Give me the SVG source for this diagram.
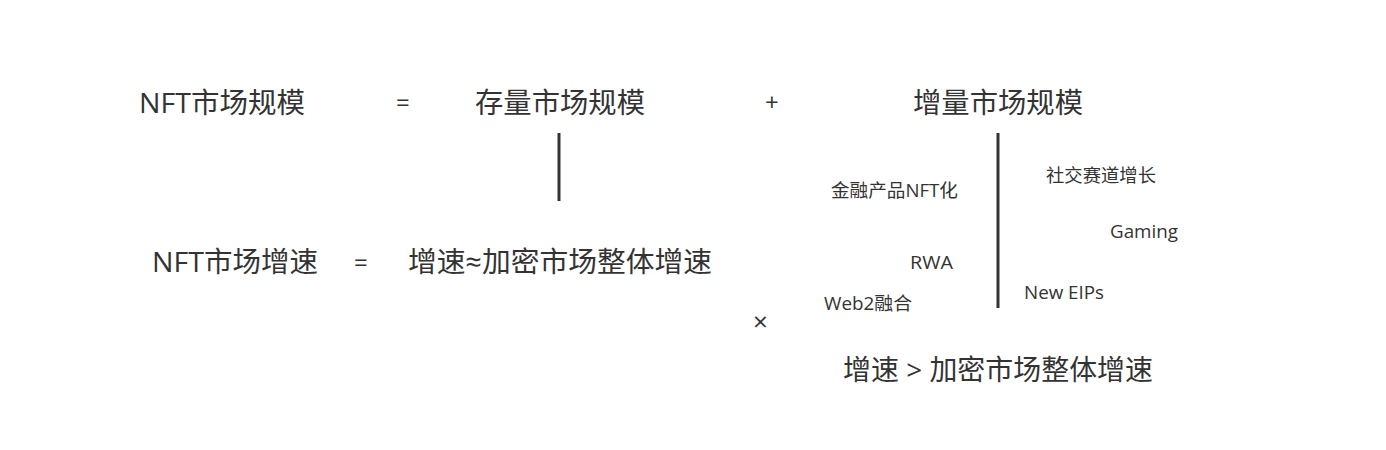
<svg xmlns="http://www.w3.org/2000/svg" width="1386" height="450" viewBox="0 0 1386 450">
<style>
text{font-family:"Open Sans","Noto Sans CJK SC",sans-serif;fill:#333333}
.b{font-size:28px}
.s{font-size:18.5px}
.op{font-size:24px}
.ln{stroke:#333333;stroke-width:3;fill:none}
</style>
<rect width="1386" height="450" fill="#ffffff"/>
<g id="row1">
<g id="nft-size"><text class="b" x="139" y="113" textLength="166" lengthAdjust="spacingAndGlyphs">NFT市场规模</text></g>
<g id="eq1"><text class="op" x="396" y="111">=</text></g>
<g id="stock"><text class="b" x="475" y="113" textLength="170" lengthAdjust="spacingAndGlyphs">存量市场规模</text></g>
<g id="plus1"><text class="op" x="765" y="111">+</text></g>
<g id="incr"><text class="b" x="913" y="113" textLength="170" lengthAdjust="spacingAndGlyphs">增量市场规模</text></g>
</g>
<g id="row2">
<g id="nft-growth"><text class="b" x="152" y="272" textLength="166" lengthAdjust="spacingAndGlyphs">NFT市场增速</text></g>
<g id="eq2"><text class="op" x="354" y="271">=</text></g>
<g id="growth-eq"><text class="b" x="408" y="272" textLength="304" lengthAdjust="spacingAndGlyphs">增速≈加密市场整体增速</text></g>
</g>
<g id="factors">
<g id="f1"><text class="s" x="831" y="197" textLength="127" lengthAdjust="spacingAndGlyphs">金融产品NFT化</text></g>
<g id="f2"><text class="s" x="1046" y="182" textLength="110" lengthAdjust="spacingAndGlyphs">社交赛道增长</text></g>
<g id="f3"><text class="s" x="1110" y="238" textLength="68" lengthAdjust="spacingAndGlyphs">Gaming</text></g>
<g id="f4"><text class="s" x="910" y="269" textLength="43" lengthAdjust="spacingAndGlyphs">RWA</text></g>
<g id="f5"><text class="s" x="1024" y="299" textLength="80" lengthAdjust="spacingAndGlyphs">New EIPs</text></g>
<g id="f6"><text class="s" x="824" y="310" textLength="88" lengthAdjust="spacingAndGlyphs">Web2融合</text></g>
</g>
<g id="times"><text x="753" y="331" style="font-size:26px">×</text></g>
<g id="growth-gt"><text class="b" x="843" y="380" textLength="310" lengthAdjust="spacingAndGlyphs">增速 &gt; 加密市场整体增速</text></g>
<g id="connectors">
<line class="ln" x1="559" y1="133" x2="559" y2="201"/>
<line class="ln" x1="998" y1="133" x2="998" y2="308"/>
</g>
</svg>
